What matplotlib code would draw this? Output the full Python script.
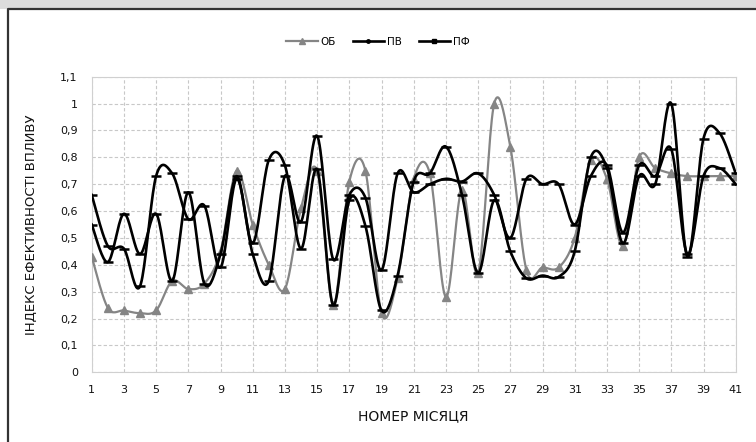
import numpy as np
import matplotlib
matplotlib.use("Agg")
import matplotlib.pyplot as plt
from matplotlib.lines import Line2D
from matplotlib.patches import Rectangle

# ---------------- data ----------------
months = list(range(1, 42))
ob = [0.43, 0.24, 0.23, 0.22, 0.23, 0.34, 0.31, 0.33, 0.45, 0.75,
      0.55, 0.40, 0.31, 0.61, 0.75, 0.25, 0.71, 0.75, 0.22, 0.35,
      0.72, 0.74, 0.28, 0.68, 0.37, 1.00, 0.84, 0.38, 0.39, 0.39,
      0.50, 0.79, 0.72, 0.47, 0.80, 0.76, 0.74, 0.73, 0.73, 0.73, 0.73]
pv = [0.55, 0.41, 0.59, 0.44, 0.59, 0.34, 0.67, 0.33, 0.44, 0.73,
      0.48, 0.79, 0.77, 0.46, 0.755, 0.25, 0.64, 0.545, 0.23, 0.36,
      0.71, 0.74, 0.84, 0.66, 0.37, 0.64, 0.45, 0.35, 0.36, 0.355,
      0.45, 0.80, 0.76, 0.48, 0.73, 0.70, 1.00, 0.43, 0.87, 0.89, 0.74]
pf = [0.66, 0.47, 0.46, 0.32, 0.73, 0.74, 0.57, 0.62, 0.39, 0.72,
      0.44, 0.34, 0.73, 0.56, 0.88, 0.42, 0.66, 0.65, 0.38, 0.74,
      0.67, 0.70, 0.72, 0.71, 0.74, 0.66, 0.50, 0.72, 0.70, 0.70,
      0.55, 0.73, 0.77, 0.52, 0.77, 0.73, 0.83, 0.44, 0.73, 0.76, 0.70]
series_names = ["ОБ", "ПВ", "ПФ"]
y_ticks = [0, 0.1, 0.2, 0.3, 0.4, 0.5, 0.6, 0.7, 0.8, 0.9, 1.0, 1.1]
y_tick_labels = ["0", "0,1", "0,2", "0,3", "0,4", "0,5", "0,6", "0,7", "0,8", "0,9", "1", "1,1"]
x_ticks = list(range(1, 42, 2))
x_label = "НОМЕР МІСЯЦЯ"
y_label = "ІНДЕКС ЕФЕКТИВНОСТІ ВПЛИВУ"


def smooth(x, y, n=20):
    """Excel-like smoothed line (cubic Bezier / Catmull-Rom)."""
    x = np.asarray(x, float)
    y = np.asarray(y, float)
    px = np.concatenate([[x[0]], x, [x[-1]]])
    py = np.concatenate([[y[0]], y, [y[-1]]])
    xs, ys = [], []
    t = np.linspace(0, 1, n, endpoint=False)
    for i in range(len(x) - 1):
        p0 = np.array([x[i], y[i]])
        p3 = np.array([x[i + 1], y[i + 1]])
        c1 = p0 + (np.array([px[i + 2], py[i + 2]]) - np.array([px[i], py[i]])) / 6.0
        c2 = p3 - (np.array([px[i + 3], py[i + 3]]) - np.array([px[i + 1], py[i + 1]])) / 6.0
        b = ((1 - t) ** 3)[:, None] * p0 + (3 * (1 - t) ** 2 * t)[:, None] * c1 \
            + (3 * (1 - t) * t ** 2)[:, None] * c2 + (t ** 3)[:, None] * p3
        xs.append(b[:, 0])
        ys.append(b[:, 1])
    xs.append([x[-1]])
    ys.append([y[-1]])
    return np.concatenate(xs), np.concatenate(ys)


W, H = 756, 442
fig = plt.figure(figsize=(W / 100, H / 100), dpi=100)
fig.patch.set_facecolor("white")

# top shading and outer chart border
fig.patches.append(Rectangle((0, 1 - 9 / H), 1, 9 / H, transform=fig.transFigure,
                             facecolor="#dcdcdc", edgecolor="none", zorder=0))
fig.lines.append(Line2D([8 / W, 8 / W, 1], [0, 1 - 9 / H, 1 - 9 / H], transform=fig.transFigure,
                        color="#333333", lw=1.6))

ax = fig.add_axes([91.7 / W, (H - 372.3) / H, (735.7 - 91.7) / W, (372.3 - 76.7) / H])
ax.set_xlim(1, 41)
ax.set_ylim(0, 1.1)

gray = "#858585"
sx, sy = smooth(months, ob)
ax.plot(sx, sy, color=gray, lw=1.6, zorder=3)
ax.plot(months, ob, ls="none", marker="^", ms=5.5, color=gray, zorder=3)

for vals in (pv, pf):
    sx, sy = smooth(months, vals)
    ax.plot(sx, sy, color="black", lw=1.9, zorder=4)
    ax.plot(months, vals, ls="none", marker="_", ms=6.5, mew=1.8, color="black", zorder=4)

ax.set_yticks(y_ticks)
ax.set_yticklabels(y_tick_labels)
ax.set_xticks(x_ticks)
ax.set_xticklabels([str(v) for v in x_ticks])
ax.tick_params(length=0, labelsize=8, colors="#111111")
ax.tick_params(axis="y", pad=10)
ax.tick_params(axis="x", pad=9)

ax.grid(True, color="#c8c8c8", lw=0.8, ls=(0, (3, 2)))
ax.set_axisbelow(True)
for s in ax.spines.values():
    s.set_color("#d0d0d0")
    s.set_linewidth(0.8)

ax.set_xlabel(x_label, fontsize=10, labelpad=10, color="#111111")
ax.set_ylabel(y_label, fontsize=9.5, labelpad=16, color="#111111")

handles = [
    Line2D([], [], color=gray, lw=1.6, marker="^", ms=5),
    Line2D([], [], color="black", lw=1.9, marker="o", ms=2.5),
    Line2D([], [], color="black", lw=1.9, marker="s", ms=3),
]
fig.legend(handles, series_names, loc="center", bbox_to_anchor=(0.5, 1 - 42 / H),
           ncol=3, frameon=False, fontsize=7.5, handlelength=3.0, handletextpad=0.3,
           columnspacing=1.6)

fig.savefig("out.png", dpi=100)
